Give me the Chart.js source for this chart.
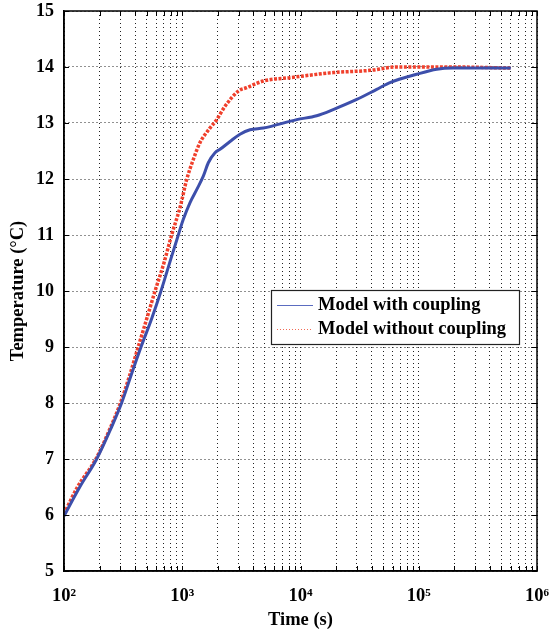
<!DOCTYPE html>
<html><head><meta charset="utf-8">
<script src="https://cdn.jsdelivr.net/npm/chart.js@4/dist/chart.umd.min.js"></script>
<style>html,body{margin:0;padding:0;background:#fff;}#wrap{width:550px;height:634px;}</style>
</head><body><div id="wrap"><canvas id="c" width="550" height="634"></canvas></div>
<script>
// ---- data ----
const withTime = [100, 136, 189, 250, 307, 370, 448, 550, 661, 800, 926, 1021, 1164, 1325, 1507, 1661, 1892, 2086, 2535, 3079, 3741, 4850, 9290, 13700, 18900, 29900, 44100, 57100, 96100, 142000, 196000, 300000, 600000];
const withTemp = [5.98, 6.5, 7.0, 7.55, 8.0, 8.5, 9.0, 9.5, 10.0, 10.57, 11.0, 11.28, 11.58, 11.81, 12.05, 12.29, 12.47, 12.53, 12.67, 12.8, 12.88, 12.91, 13.06, 13.13, 13.24, 13.42, 13.6, 13.72, 13.87, 13.96, 13.98, 13.98, 13.98];
const withoutTime = [100, 130, 186, 240, 300, 360, 424, 500, 589, 700, 813, 960, 1090, 1241, 1413, 1700, 1956, 2300, 2980, 3500, 4850, 8150, 18900, 38700, 65000, 100000, 200000, 600000];
const withoutTemp = [6.02, 6.5, 7.0, 7.5, 8.0, 8.5, 9.0, 9.5, 10.0, 10.5, 11.0, 11.5, 11.99, 12.35, 12.65, 12.9, 13.06, 13.3, 13.57, 13.63, 13.75, 13.81, 13.9, 13.94, 14.0, 14.0, 14.0, 13.98];
const seriesNames = ['Model with coupling', 'Model without coupling'];
const xGridValues = [100,200,300,400,500,600,700,800,900,1000,2000,3000,4000,5000,6000,7000,8000,9000,10000,20000,30000,40000,50000,60000,70000,80000,90000,100000,200000,300000,400000,500000,600000,700000,800000,900000,1000000];
const xDecades = [100, 1000, 10000, 100000, 1000000];
const xDecadeLabels = ['10²', '10³', '10⁴', '10⁵', '10⁶'];
const yTicks = [5,6,7,8,9,10,11,12,13,14,15];
const xTitle = 'Time (s)';
const yTitle = 'Temperature (°C)';

const FONT = 'Liberation Serif';
const blue = '#3d4fab';
const red = '#f0402c';

const toPts = (xs, ys) => xs.map((x, i) => ({x, y: ys[i]}));

const framePlugin = {
  id: 'frame',
  afterDatasetsDraw(chart) {
    const {ctx, chartArea: a, scales} = chart;
    ctx.save();
    ctx.strokeStyle = '#000';
    ctx.lineWidth = 1.5;
    ctx.strokeRect(a.left, a.top, a.right - a.left, a.bottom - a.top);
    ctx.lineWidth = 1;
    ctx.beginPath();
    xGridValues.forEach(v => {
      const px = Math.round(scales.x.getPixelForValue(v)) + 0.5;
      ctx.moveTo(px, a.bottom); ctx.lineTo(px, a.bottom - 5);
      ctx.moveTo(px, a.top); ctx.lineTo(px, a.top + 5);
    });
    yTicks.forEach(v => {
      const py = Math.round(scales.y.getPixelForValue(v)) + 0.5;
      ctx.moveTo(a.left, py); ctx.lineTo(a.left + 5, py);
      ctx.moveTo(a.right, py); ctx.lineTo(a.right - 5, py);
    });
    ctx.stroke();
    ctx.restore();
  },
  afterDraw(chart) {
    const {ctx} = chart;
    const bx = 271, by = 290, bw = 248, bh = 54;
    ctx.save();
    ctx.fillStyle = '#fff';
    ctx.fillRect(bx, by, bw, bh);
    ctx.strokeStyle = '#222';
    ctx.lineWidth = 1.2;
    ctx.strokeRect(bx + 0.5, by + 0.5, bw, bh);
    ctx.lineWidth = 1;
    ctx.strokeStyle = '#5b6cc0';
    ctx.beginPath(); ctx.moveTo(277, 305.5); ctx.lineTo(313, 305.5); ctx.stroke();
    ctx.strokeStyle = '#f26a55';
    ctx.setLineDash([1, 2]);
    ctx.beginPath(); ctx.moveTo(277, 329.5); ctx.lineTo(313, 329.5); ctx.stroke();
    ctx.setLineDash([]);
    ctx.fillStyle = '#000';
    ctx.font = 'bold 18.5px "' + FONT + '"';
    ctx.textBaseline = 'middle';
    ctx.textAlign = 'left';
    ctx.fillText(seriesNames[0], 318, 305);
    ctx.fillText(seriesNames[1], 318, 329);
    ctx.restore();
  }
};

new Chart(document.getElementById('c'), {
  type: 'line',
  data: {
    datasets: [
      {label: seriesNames[0], data: toPts(withTime, withTemp), borderColor: blue, borderWidth: 3, pointRadius: 0, cubicInterpolationMode: 'monotone', fill: false},
      {label: seriesNames[1], data: toPts(withoutTime, withoutTemp), borderColor: red, borderWidth: 3.5, borderDash: [3, 1.5], pointRadius: 0, cubicInterpolationMode: 'monotone', fill: false}
    ]
  },
  options: {
    responsive: false,
    animation: false,
    devicePixelRatio: 1,
    layout: {padding: {top: 11, right: 13, left: 0, bottom: 0}},
    plugins: {legend: {display: false}, tooltip: {enabled: false}},
    scales: {
      x: {
        type: 'logarithmic', min: 100, max: 1000000,
        afterBuildTicks: s => { s.ticks = xGridValues.map(v => ({value: v, major: xDecades.includes(v)})); },
        afterFit: s => { s.height = 63; s.paddingLeft = 0; s.paddingRight = 0; },
        ticks: {
          autoSkip: false, maxRotation: 0, minRotation: 0, padding: 14, color: '#000',
          font: {family: FONT, weight: 'bold', size: 18.5},
          callback: v => { const i = xDecades.indexOf(v); return i >= 0 ? xDecadeLabels[i] : ''; }
        },
        grid: {color: '#222', lineWidth: 1, drawTicks: false},
        border: {display: true, color: '#000', width: 1.5, dash: [1, 3]},
        title: {display: true, text: xTitle, color: '#000', font: {family: FONT, weight: 'bold', size: 18.5}, padding: {top: 0, bottom: 3}}
      },
      y: {
        type: 'linear', min: 5, max: 15,
        afterBuildTicks: s => { s.ticks = yTicks.map(v => ({value: v})); },
        afterFit: s => { s.width = 64; s.paddingTop = 0; s.paddingBottom = 0; },
        ticks: {padding: 10, color: '#000', font: {family: FONT, weight: 'bold', size: 18}},
        grid: {color: '#222', lineWidth: 1, drawTicks: false},
        border: {display: true, color: '#000', width: 1.5, dash: [1, 3]},
        title: {display: true, text: yTitle, color: '#000', font: {family: FONT, weight: 'bold', size: 18.5}, padding: {top: 7, bottom: 0}}
      }
    }
  },
  plugins: [framePlugin]
});
</script>
</body></html>
